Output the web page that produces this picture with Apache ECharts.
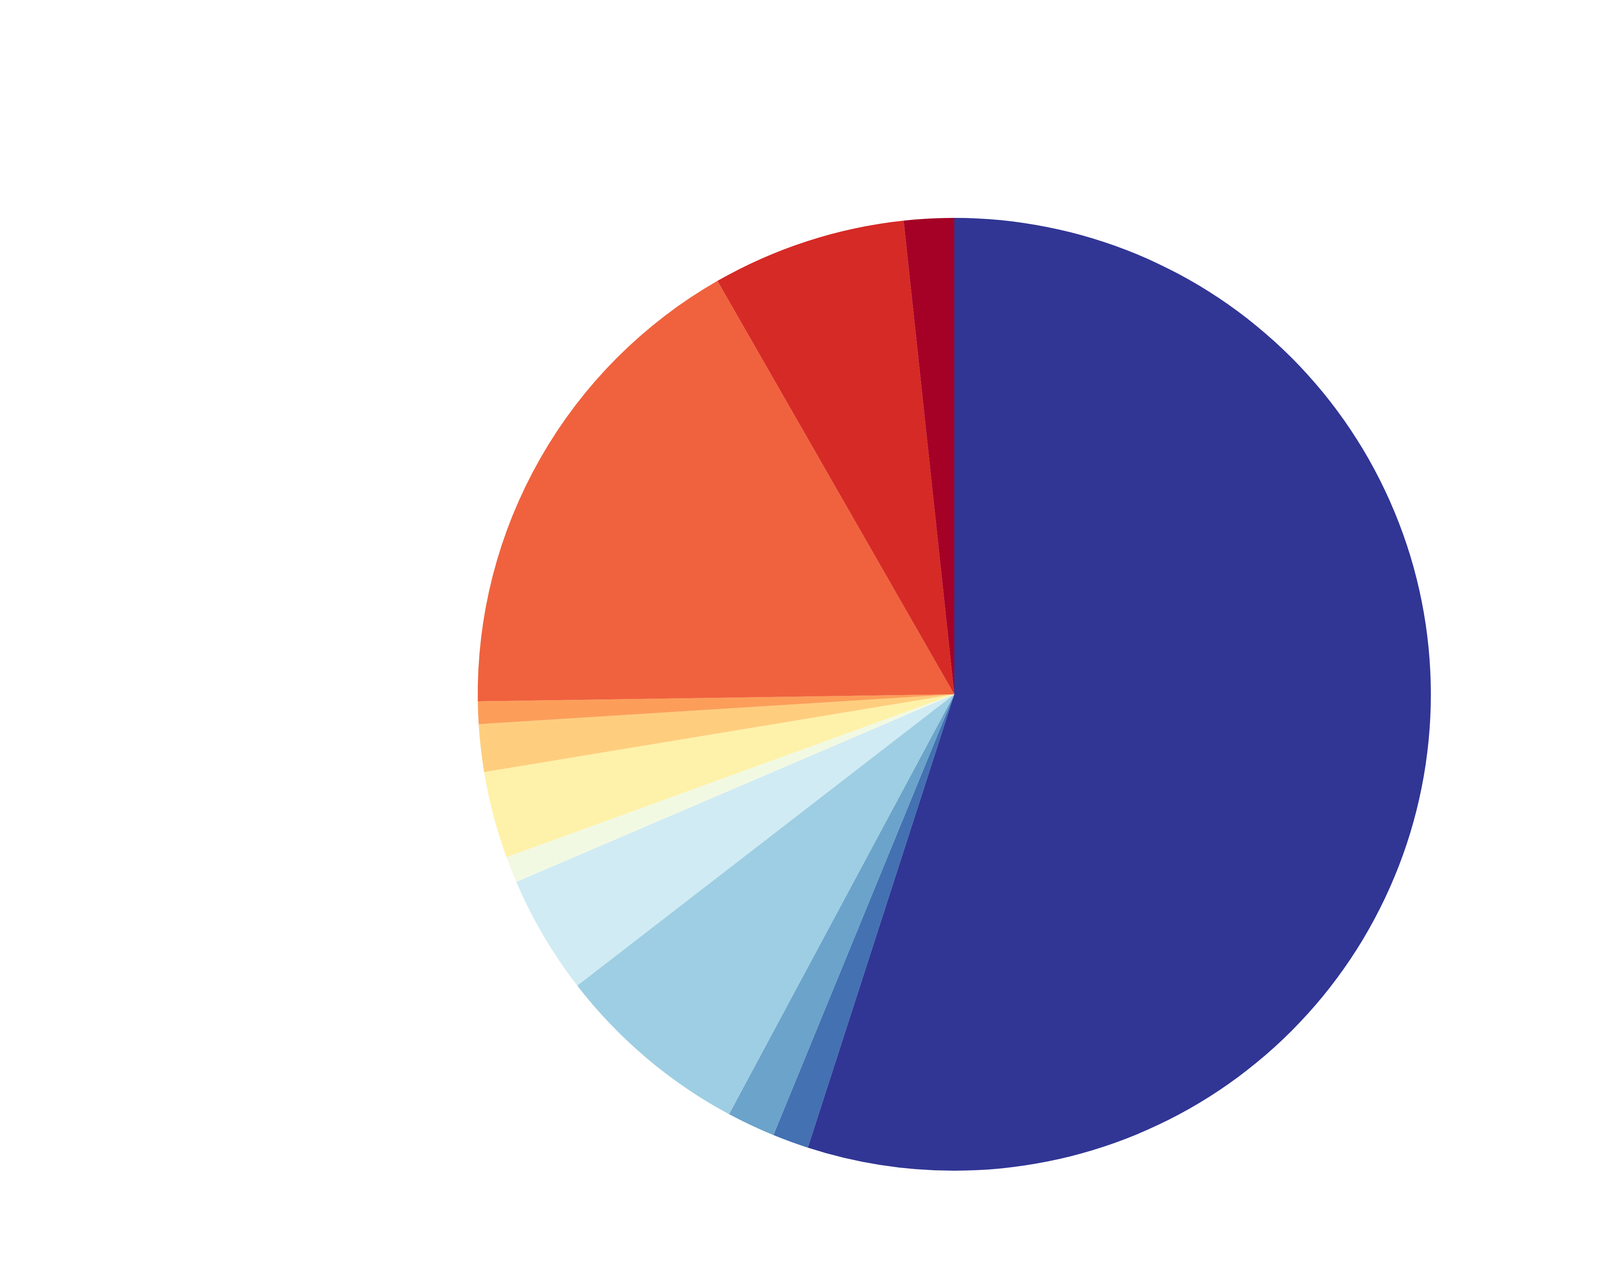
<!DOCTYPE html>
<html>
<head>
<meta charset="utf-8">
<script src="https://cdn.jsdelivr.net/npm/echarts@6/dist/echarts.min.js"></script>
<style>
html,body{margin:0;padding:0;background:#fff;}
#chart{width:4542px;height:3260px;}
</style>
</head>
<body>
<div id="chart"></div>
<script>
const categories = ['A','B','C','D','E','F','G','H','I','J','K','L'];
const values = [197.9, 4.4, 5.9, 24.1, 14.5, 3.2, 10.6, 5.8, 2.75, 61.05, 23.7, 6.1];
const colors = ['#313695','#4471b2','#6ba3cb','#9ecee3','#d0ebf3','#f2f9e3','#fef2aa','#fece7e','#fc9e5a','#f0623e','#d62a26','#a50026'];

const chart = echarts.init(document.getElementById('chart'), null, {renderer:'canvas'});
chart.setOption({
  animation: false,
  backgroundColor: '#ffffff',
  series: [{
    type: 'pie',
    center: [2443, 1778],
    radius: 1220,
    startAngle: 90,
    clockwise: true,
    label: {show: false},
    labelLine: {show: false},
    emphasis: {disabled: true},
    itemStyle: {borderWidth: 0},
    data: categories.map((c, i) => ({name: c, value: values[i], itemStyle: {color: colors[i]}}))
  }]
});
</script>
</body>
</html>
